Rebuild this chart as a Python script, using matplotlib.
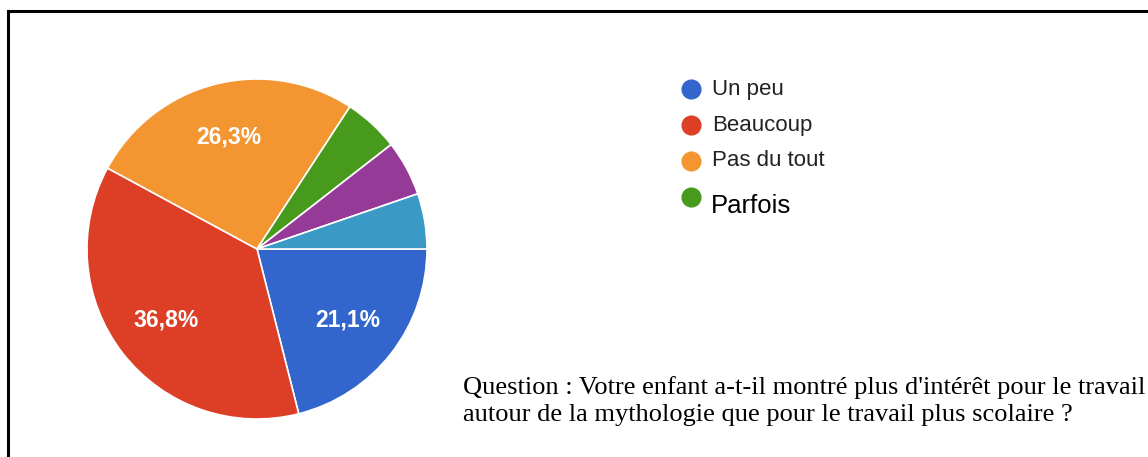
import matplotlib.pyplot as plt
from matplotlib.lines import Line2D
from matplotlib.patches import Rectangle

# data (19 answers)
labels = ['Un peu', 'Beaucoup', 'Pas du tout', 'Parfois', 'Autre 1', 'Autre 2']
counts = [4, 7, 5, 1, 1, 1]
colors = ['#3366cc', '#dc3e26', '#f39531', '#479a1c', '#963a98', '#3b99c6']
legend_n = 4
question = ("Question : Votre enfant a-t-il montré plus d'intérêt pour le travail\n"
            "autour de la mythologie que pour le travail plus scolaire ?")

W, H = 1148, 457
fig = plt.figure(figsize=(W/100, H/100), dpi=100)

# black frame (right and bottom sides fall outside the picture)
fig.add_artist(Rectangle((8/W, -0.05), 1.1, 1 - 11/H + 0.05,
                         transform=fig.transFigure, fill=False,
                         edgecolor='black', linewidth=2.2))

cx, cy, r = 257, 249, 170
ax = fig.add_axes([(cx - r)/W, (H - cy - r)/H, 2*r/W, 2*r/H])


def pct(p):
    if p < 10:
        return ''
    return ('%.1f%%' % p).replace('.', ',')


wedges, texts, autotexts = ax.pie(
    counts, colors=colors, startangle=0, counterclock=False,
    autopct=pct, pctdistance=0.68,
    wedgeprops=dict(edgecolor='white', linewidth=1.2),
    textprops=dict(color='white', fontsize=16.5, fontweight='bold',
                   family='Liberation Sans'))
ax.set_xlim(-1, 1)
ax.set_ylim(-1, 1)
ax.set_aspect('equal')

# legend
for i in range(legend_n):
    ymark = 89 + 36*i
    fig.add_artist(Line2D([691/W], [1 - ymark/H], marker='o', markersize=13.5,
                          color=colors[i], transform=fig.transFigure))
    if labels[i] == 'Parfois':
        fig.text(711/W, 1 - (ymark + 9)/H, labels[i], fontsize=18.5,
                 color='black', va='center', family='Liberation Sans')
    else:
        fig.text(712/W, 1 - ymark/H, labels[i], fontsize=16,
                 color='#222222', va='center', family='Liberation Sans')

fig.text(463/W, 1 - 401/H, question, fontsize=19, family='Liberation Serif',
         va='center', ha='left', linespacing=1.3)

fig.savefig('out.png', dpi=100)
